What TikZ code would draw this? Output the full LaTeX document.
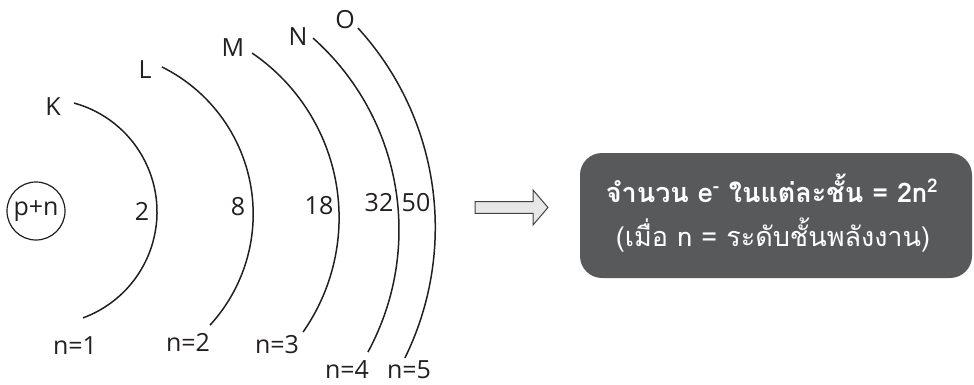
\documentclass[tikz,border=0pt]{standalone}
\usepackage{fontspec}
\setmainfont{Open Sans}
\newfontfamily\thaifont[Script=Thai]{Loma}
\definecolor{ink}{HTML}{231F20}
\definecolor{boxgray}{HTML}{58595B}
\definecolor{arrowfill}{HTML}{E6E7E8}
\definecolor{arrowline}{HTML}{414042}
\begin{document}
\begin{tikzpicture}[x=1pt,y=1pt,
  lbl/.style={text=ink, font=\fontsize{25}{27}\selectfont, inner sep=0pt},
  shell/.style={draw=ink, line width=1.5pt},
  nucleus/.style={circle, draw=ink, line width=1.2pt, minimum size=58pt, inner sep=0pt, text=ink, font=\fontsize{25}{27}\selectfont},
  infobox/.style={fill=boxgray, rounded corners=22pt, minimum width=392pt, minimum height=125pt, inner sep=0pt},
  infotext/.style={text=white, inner sep=0pt, anchor=base}
]
\useasboundingbox (0,0) rectangle (974,384);
% nucleus
\node[nucleus] (nuc) at (36,173) {p+n};
% shell centres
\coordinate (cK) at (44.1,172.1);
\coordinate (cL) at (88.9,169.9);
\coordinate (cM) at (139.8,166.3);
\coordinate (cN) at (142.4,154.3);
\coordinate (cO) at (139.6,156.6);
% shells
\draw[shell] ([shift={(74.6:112.9)}]cK) arc[start angle=74.6, end angle=-69.8, radius=112.9];
\draw[shell] ([shift={(63.6:164.3)}]cL) arc[start angle=63.6, end angle=-42.5, radius=164.3];
\draw[shell] ([shift={(55.7:199.3)}]cM) arc[start angle=55.7, end angle=-35.0, radius=199.3];
\draw[shell] ([shift={(48.3:256.6)}]cN) arc[start angle=48.3, end angle=-28.5, radius=256.6];
\draw[shell] ([shift={(42.4:295.7)}]cO) arc[start angle=42.4, end angle=-26.2, radius=295.7];
% shell names
\node[lbl] (K) at (53,277) {K};
\node[lbl] (L) at (145,314) {L};
\node[lbl] (M) at (233,336) {M};
\node[lbl] (N) at (298,347) {N};
\node[lbl] (O) at (345,364) {O};
% electron numbers
\node[lbl] (e1) at (142,173) {2};
\node[lbl] (e2) at (238,177) {8};
\node[lbl] (e3) at (319,178) {18};
\node[lbl] (e4) at (379,181) {32};
\node[lbl] (e5) at (416,181) {50};
% n labels
\node[lbl] (n1) at (75,38) {n=1};
\node[lbl] (n2) at (188,42) {n=2};
\node[lbl] (n3) at (277,39) {n=3};
\node[lbl] (n4) at (347,14) {n=4};
\node[lbl] (n5) at (409,14) {n=5};
% block arrow
\draw[fill=arrowfill, draw=arrowline, line width=1pt, line join=miter]
  (475,170.7) -- (533,170.7) -- (533,159) -- (548,176.5) -- (533,194) -- (533,182.3) -- (475,182.3) -- cycle;
% info box
\node[infobox] (box) at (776,168.5) {};
\node[infotext] (line1) at (772,182) {\thaifont\fontsize{27}{29}\selectfont\bfseries จำนวน e\textsuperscript{-} ในแต่ละชั้น = 2n\textsuperscript{2}};
\node[infotext] (line2) at (773,138) {\thaifont\fontsize{27}{29}\selectfont (เมื่อ n = ระดับชั้นพลังงาน)};
\end{tikzpicture}
\end{document}
